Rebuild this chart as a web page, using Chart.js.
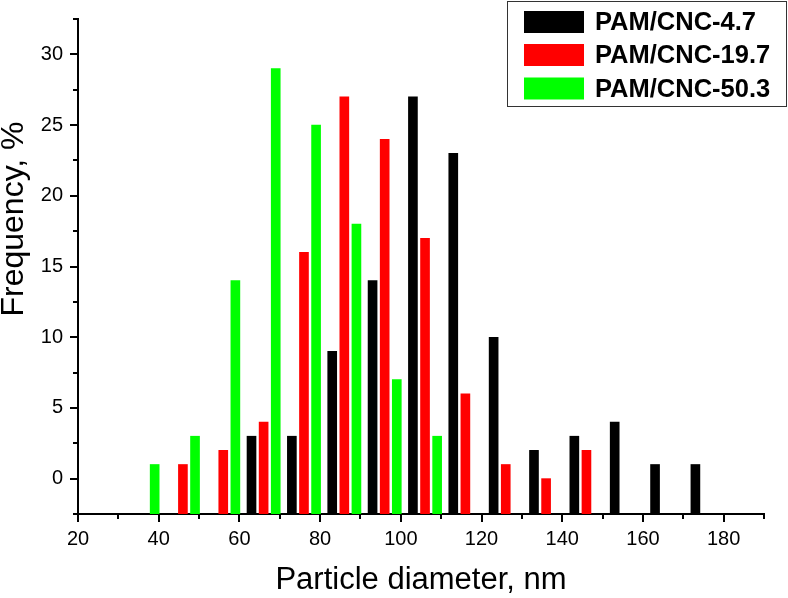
<!DOCTYPE html>
<html lang="en">
<head>
<meta charset="UTF-8">
<title>Particle diameter distribution</title>
<script src="https://cdn.jsdelivr.net/npm/chart.js"></script>
<style>
  body, html { margin: 0; padding: 0; background: #fff; }
  #wrap { width: 788px; height: 598px; position: relative; }
</style>
</head>
<body>
<div id="wrap"><canvas id="sizeChart"></canvas></div>
<script>
// diameters (nm) and frequencies (%)
const seriesNames = ['PAM/CNC-4.7', 'PAM/CNC-19.7', 'PAM/CNC-50.3'];
const seriesColors = ['#000000', '#ff0000', '#00ff00'];

const blackX = [63, 73, 83, 93, 103, 113, 123, 133, 143, 153, 163, 173];
const blackY = [3, 3, 9, 14, 27, 23, 10, 2, 3, 4, 1, 1];
const redX = [46, 56, 66, 76, 86, 96, 106, 116, 126, 136, 146];
const redY = [1, 2, 4, 16, 27, 24, 17, 6, 1, 0, 2];
const greenX = [39, 49, 59, 69, 79, 89, 99, 109];
const greenY = [1, 3, 14, 29, 25, 18, 7, 3];

const xMajorTicks = [20, 40, 60, 80, 100, 120, 140, 160, 180];
const yMajorTicks = [0, 5, 10, 15, 20, 25, 30];
const xMinorTicks = [30, 50, 70, 90, 110, 130, 150, 170, 190];
const yMinorTicks = [-2.5, 2.5, 7.5, 12.5, 17.5, 22.5, 27.5, 32.5];

const FONT = 'Arial, "Liberation Sans", sans-serif';

function pts(xs, ys) {
  return xs.map((x, i) => ({ x: x, y: ys[i] }));
}

const extras = {
  id: 'extras',
  afterDraw(chart) {
    const { ctx, scales } = chart;
    const xs = scales.x, ys = scales.y;
    const area = chart.chartArea;
    ctx.save();

    // minor ticks
    ctx.strokeStyle = '#000';
    ctx.lineWidth = 2;
    ctx.beginPath();
    xMinorTicks.forEach(v => {
      const px = Math.round(xs.getPixelForValue(v));
      ctx.moveTo(px, area.bottom);
      ctx.lineTo(px, area.bottom + 5);
    });
    yMinorTicks.forEach(v => {
      const py = Math.round(ys.getPixelForValue(v));
      ctx.moveTo(area.left, py);
      ctx.lineTo(area.left - 5, py);
    });
    ctx.stroke();

    // axis titles
    ctx.fillStyle = '#000';
    ctx.textAlign = 'center';
    ctx.textBaseline = 'alphabetic';
    ctx.font = '31px ' + FONT;
    ctx.fillText('Particle diameter, nm', (area.left + area.right) / 2, 589);

    ctx.save();
    ctx.translate(23, 219);
    ctx.rotate(-Math.PI / 2);
    ctx.font = '32px ' + FONT;
    ctx.fillText('Frequency, %', 0, 0);
    ctx.restore();

    // legend box
    ctx.strokeStyle = '#333';
    ctx.lineWidth = 1;
    ctx.strokeRect(507.5, 1.5, 279, 105);
    ctx.font = 'bold 25.5px ' + FONT;
    ctx.textAlign = 'left';
    ctx.textBaseline = 'middle';
    const rows = [22, 55, 88.5];
    chart.data.datasets.forEach((ds, i) => {
      ctx.fillStyle = ds.backgroundColor;
      ctx.fillRect(524, rows[i] - 11, 60, 22);
      ctx.fillStyle = '#000';
      ctx.fillText(ds.label, 595, rows[i] + 1);
    });
    ctx.restore();
  }
};

new Chart(document.getElementById('sizeChart'), {
  type: 'bar',
  data: {
    datasets: [
      { label: seriesNames[0], data: pts(blackX, blackY), backgroundColor: seriesColors[0] },
      { label: seriesNames[1], data: pts(redX, redY), backgroundColor: seriesColors[1] },
      { label: seriesNames[2], data: pts(greenX, greenY), backgroundColor: seriesColors[2] }
    ]
  },
  options: {
    responsive: true,
    maintainAspectRatio: false,
    animation: false,
    layout: { padding: { top: 10, right: 24, left: 0, bottom: 0 } },
    datasets: {
      bar: { grouped: false, barThickness: 9, base: -2.5, borderWidth: 0 }
    },
    plugins: {
      legend: { display: false },
      tooltip: { enabled: false }
    },
    scales: {
      x: {
        type: 'linear',
        offset: false,
        min: 20,
        max: 190,
        afterFit(s) { s.height = 84; },
        afterBuildTicks(s) { s.ticks = xMajorTicks.map(v => ({ value: v })); },
        ticks: {
          color: '#000',
          padding: 5,
          font: { family: FONT, size: 20 }
        },
        grid: { display: true, offset: false, drawOnChartArea: false, drawTicks: true, tickLength: 8, color: '#000', lineWidth: 2 },
        border: { display: true, color: '#000', width: 2 }
      },
      y: {
        type: 'linear',
        min: -2.5,
        max: 32.5,
        afterFit(s) { s.width = 78; },
        afterBuildTicks(s) { s.ticks = yMajorTicks.map(v => ({ value: v })); },
        ticks: {
          color: '#000',
          padding: 7,
          font: { family: FONT, size: 20 }
        },
        grid: { display: true, drawOnChartArea: false, drawTicks: true, tickLength: 8, color: '#000', lineWidth: 2 },
        border: { display: true, color: '#000', width: 2 }
      }
    }
  },
  plugins: [extras]
});
</script>
</body>
</html>
